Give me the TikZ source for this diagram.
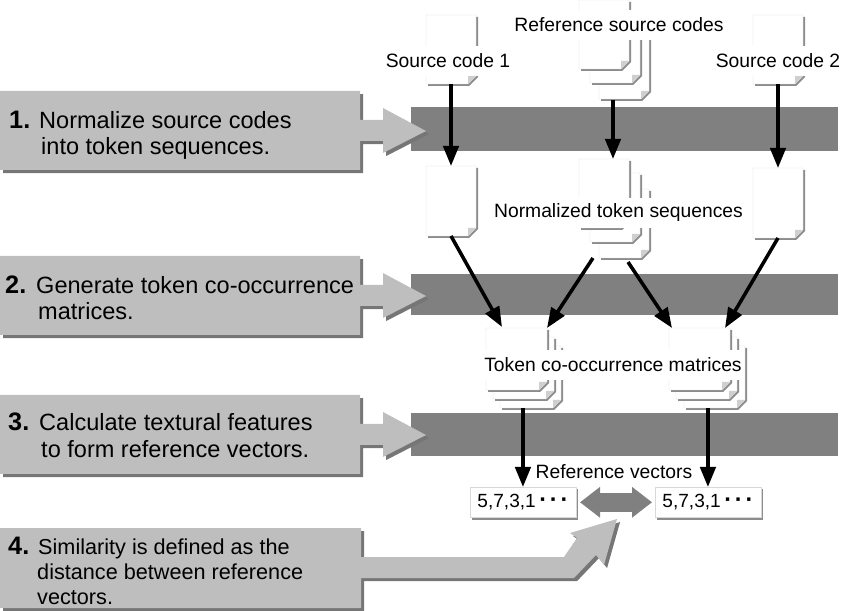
\documentclass[tikz,border=0pt]{standalone}
\usepackage{fontspec}
\setmainfont{Liberation Sans}
\usetikzlibrary{arrows.meta}
\definecolor{bandgray}{HTML}{808080}
\definecolor{stepgray}{HTML}{BEBEBE}
\definecolor{stepshadow}{HTML}{767676}
\definecolor{sheetedge}{HTML}{D8D8D8}
\definecolor{sheetshadow}{HTML}{8C8C8C}
\definecolor{foldgray}{HTML}{CFCFCF}
% one sheet of paper: name, left, top, width, height
\newcommand{\sheet}[5]{
    \fill [sheetshadow] (#2+2,#3+2) -- (#2+#4+2,#3+2) -- (#2+#4+2,#3+#5-7) --
          (#2+#4-7,#3+#5+2) -- (#2+2,#3+#5+2) -- cycle;
    \draw [sheetedge, fill=white] (#2,#3) -- (#2+#4,#3) -- (#2+#4,#3+#5-8) --
          (#2+#4-8,#3+#5) -- (#2,#3+#5) -- cycle;
    \fill [foldgray] (#2+#4,#3+#5-8) -- (#2+#4-8,#3+#5-8) -- (#2+#4-8,#3+#5) -- cycle;
    \node [sheetbase, minimum width={#4*0.85pt}, minimum height={#5*0.85pt}] (#1) at (#2,#3) {};
}
\newcommand{\vecdots}{{\fontsize{20}{19}\selectfont\bfseries ·\kern2.4pt·\kern2.4pt·}}
\begin{document}
\begin{tikzpicture}[%
            x=0.85pt, y=-0.85pt,
            sheetbase/.style={anchor=north west, inner sep=0pt, outer sep=0pt},
            band/.style={fill=bandgray},
            callout/.style={fill=stepgray, preaction={fill=stepshadow, transform canvas={xshift=2.6pt, yshift=-2.6pt}}},
            steptext/.style={anchor=base west, inner sep=0pt, font=\fontsize{20}{24}\selectfont},
            steptextb/.style={anchor=base west, inner sep=0pt, font=\fontsize{18.4}{24}\selectfont},
            stepnum/.style={anchor=base west, inner sep=0pt, font=\fontsize{21.5}{24}\selectfont\bfseries},
            sheetlabel/.style={fill=white, inner sep=0pt, minimum height=25pt, font=\fontsize{16.4}{19}\selectfont},
            plainlabel/.style={inner sep=0pt, font=\fontsize{16.4}{19}\selectfont},
            vecbox/.style={draw=sheetedge, fill=white, anchor=north west, inner sep=0pt, outer sep=0pt,
                minimum width=90pt, minimum height=26pt, font=\fontsize{16.2}{19}\selectfont,
                preaction={fill=sheetshadow, transform canvas={xshift=1.7pt, yshift=-1.7pt}}},
            flow/.style={line width=3pt, -{Triangle[length=17pt, width=13pt]}},
            linkarrow/.style={line width=16.5pt, bandgray, shorten <=3.5pt, shorten >=2.5pt,
                {Triangle[length=17pt, width=25pt]}-{Triangle[length=17pt, width=25pt]}}
        ]
        \useasboundingbox (0,0) rectangle (850,611);

        % dark bands
        \fill [band] (411,107) rectangle (838,151);
        \fill [band] (411,274) rectangle (838,315);
        \fill [band] (411,413) rectangle (838,456);

        % step boxes
        \foreach \tp in {91,256,395} {
            \fill [callout] (0,\tp) -- (360,\tp) -- (360,\tp+29) -- (383,\tp+29) --
                  (383,\tp+17) -- (426,\tp+40) -- (383,\tp+62) -- (383,\tp+50) --
                  (360,\tp+50) -- (360,\tp+79) -- (0,\tp+79) -- cycle;
        }
        \fill [callout] (0,528) -- (361,528) -- (361,557) -- (564,557) -- (577,538) --
              (570,533) -- (617,519) -- (604,565) -- (596,555) -- (574,578) --
              (361,578) -- (361,608) -- (0,608) -- cycle;

        \node [stepnum] (num1) at (9,129) {1.};
        \node [steptext] (step1a) at (39,129) {Normalize source codes};
        \node [steptext] (step1b) at (41,155) {into token sequences.};
        \node [stepnum] (num2) at (5,294) {2.};
        \node [steptext] (step2a) at (36,294) {Generate token co-occurrence};
        \node [steptext] (step2b) at (38,320) {matrices.};
        \node [stepnum] (num3) at (8,431) {3.};
        \node [steptext] (step3a) at (39,431) {Calculate textural features};
        \node [steptext] (step3b) at (41,458) {to form reference vectors.};
        \node [stepnum] (num4) at (8,554) {4.};
        \node [steptextb] (step4a) at (38,554) {Similarity is defined as the};
        \node [steptextb] (step4b) at (37,579) {distance between reference};
        \node [steptextb] (step4c) at (37,604) {vectors.};

        % source codes
        \sheet{src1}{426}{15}{50}{69}
        \sheet{src2}{753}{15}{50}{69}
        \foreach \nm/\xx/\yy in {ref3/599/30,ref2/590/14,ref1/579/0} {
            \sheet{\nm}{\xx}{\yy}{50}{69}
        }
        \node [sheetlabel] (srclabel1) at (448,61) {Source code 1};
        \node [sheetlabel] (srclabel2) at (778,61) {Source code 2};
        \node [sheetlabel] (reflabel) at (619,25) {Reference source codes};

        % normalized sequences
        \sheet{norm1}{426}{166}{50}{70}
        \sheet{norm3}{753}{168}{50}{70}
        \foreach \nm/\xx/\yy in {seq3/599/189,seq2/590/173,seq1/579/159} {
            \sheet{\nm}{\xx}{\yy}{50}{69}
        }
        \node [sheetlabel] (seqlabel) at (618.5,213) {Normalized token sequences};

        % matrices
        \foreach \nm/\xx/\yy in {mata3/500/346,mata2/493/337,mata1/486/328,matb3/684/346,matb2/676/337,matb1/669/328} {
            \sheet{\nm}{\xx}{\yy}{61}{62}
        }
        \node [sheetlabel] (matlabel) at (613,365) {Token co-occurrence matrices};

        % vectors
        \node [vecbox] (vec1) at (470,487) {5,7,3,1\kern3pt\vecdots};
        \node [vecbox] (vec2) at (655,487) {5,7,3,1\kern3pt\vecdots};
        \node [plainlabel] (veclabel) at (614,472) {Reference vectors};
        \draw [linkarrow] (vec1.east) -- (vec2.west);

        % arrow ends that are not on an anchor
        \coordinate (refout) at (613,100);
        \coordinate (seqin) at (613,159);
        \coordinate (seqouta) at (593,258);
        \coordinate (seqoutb) at (628,262);
        \coordinate (matain) at (502,327);
        \coordinate (matbin) at (547,328);
        \coordinate (matcin) at (672,328);
        \coordinate (matdin) at (725,328);

        \draw [flow] (src1.south) -- (norm1.north);
        \draw [flow] (refout) -- (seqin);
        \draw [flow] (src2.south) -- (norm3.north);
        \draw [flow] (norm1.south) -- (matain);
        \draw [flow] (seqouta) -- (matbin);
        \draw [flow] (seqoutb) -- (matcin);
        \draw [flow] (norm3.south) -- (matdin);
        \draw [flow] (vec1.north |- mata3.south) -- (vec1.north);
        \draw [flow] (vec2.north |- matb3.south) -- (vec2.north);
    \end{tikzpicture}
\end{document}
